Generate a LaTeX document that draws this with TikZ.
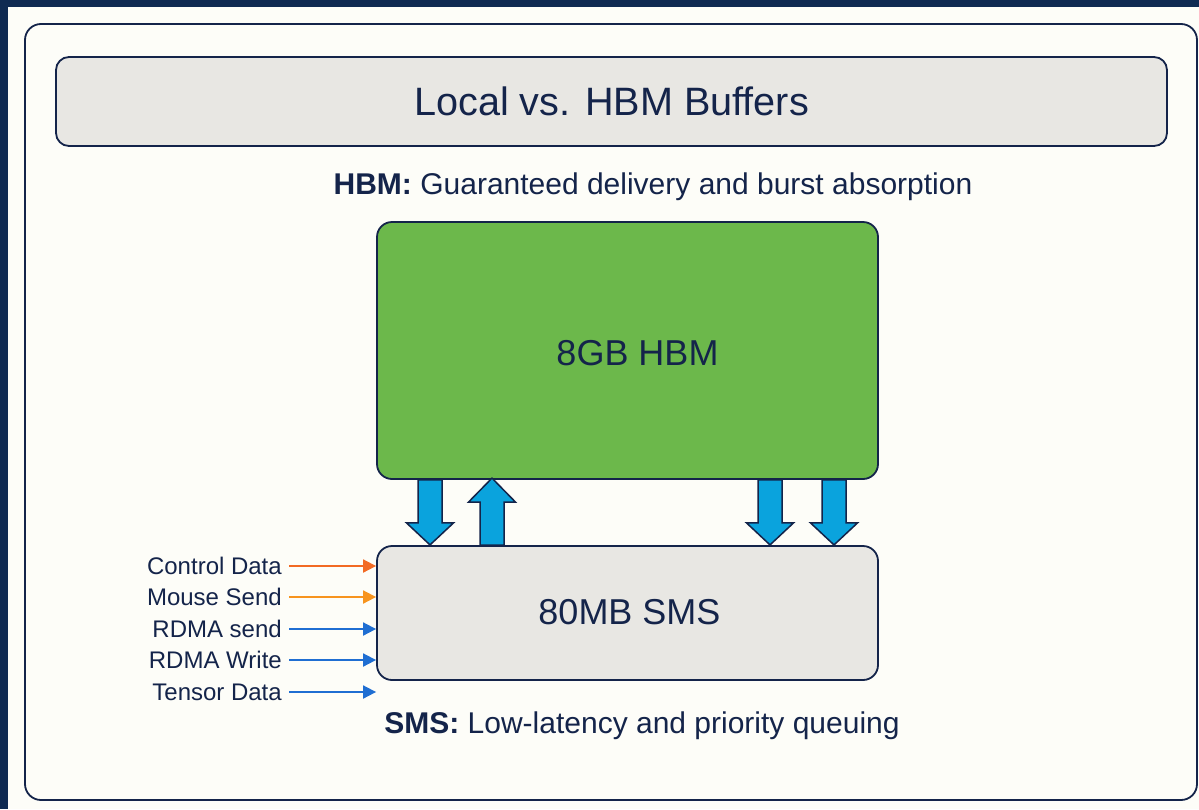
\documentclass[tikz,border=0pt]{standalone}
\usepackage{fontspec}
\setmainfont{Liberation Sans}
\usetikzlibrary{positioning,calc,arrows.meta}

\definecolor{navy}{HTML}{0F2A52}
\definecolor{ink}{HTML}{14244A}
\definecolor{cream}{HTML}{FDFDF8}
\definecolor{boxgray}{HTML}{E8E7E3}
\definecolor{hbmgreen}{HTML}{6CB84B}
\definecolor{flowblue}{HTML}{0AA3DD}
\definecolor{ctrlorange}{HTML}{F26A24}
\definecolor{mouseorange}{HTML}{F7941E}
\definecolor{rdmablue}{HTML}{1F6ED2}

\tikzstyle{panel} = [draw=ink, line width=1.8pt, rounded corners=13pt]
\tikzstyle{buffer} = [draw=ink, line width=1.8pt, rounded corners=15pt, minimum width=501pt]
\tikzstyle{buftext} = [text=ink, font=\fontsize{36}{42}\selectfont]
\tikzstyle{note} = [text=ink, font=\fontsize{30}{34}\selectfont]
\tikzstyle{inlabel} = [anchor=east, text=ink, inner sep=0pt, font=\fontsize{24}{28}\selectfont]
\tikzstyle{inarrow} = [line width=1.8pt, -{Triangle[length=13pt,width=13pt]}]
\tikzstyle{blockarrow} = [draw=ink, line width=1.5pt, fill=flowblue, line join=miter]

\begin{document}
\begin{tikzpicture}[x=1pt, y=-1pt]
  % frame
  \fill[navy] (0,0) rectangle (1199,809);
  \fill[cream] (8,7) rectangle (1199,809);
  \draw[panel, rounded corners=16pt] (25,24) rectangle (1197,800);

  \node[panel, fill=boxgray, minimum width=1111pt, minimum height=89pt, text=ink, font=\fontsize{39.6}{45}\selectfont] (title) at (611.5,101.5) {Local vs. HBM Buffers};

  \node[note] (hbmnote) at (653,187) {\textbf{HBM:} Guaranteed delivery and burst absorption};

  % buffers
  \node[buffer, fill=hbmgreen, minimum height=257pt] (hbm) at (627.5,350.5) {};
  \node[buftext] (hbmtext) at ([xshift=10pt, yshift=-3pt]hbm.center) {8GB HBM};
  \node[buffer, fill=boxgray, minimum height=134pt] (sms) at (627.5,613) {};
  \node[buftext] (smstext) at ([xshift=2pt, yshift=1pt]sms.center) {80MB SMS};

  \node[note] (smsnote) at (642,726) {\textbf{SMS:} Low-latency and priority queuing};

  % hbm -> sms
  \foreach \x in {430,770,834}
  \draw[blockarrow] (\x,0 |- hbm.south) ++(-12,0) -- ++(0,43) -- ++(-11.5,0) -- ++(23.5,22) -- ++(23.5,-22) -- ++(-11.5,0) -- ++(0,-43) -- cycle;

  % sms -> hbm
  \draw[blockarrow] (492,0 |- sms.north) ++(-12,0) -- ++(0,-43) -- ++(-11.5,0) -- ++(23.5,-24) -- ++(23.5,24) -- ++(-11.5,0) -- ++(0,43) -- cycle;

  % inputs
  \foreach \y/\txt/\col [count=\i] in {566/Control Data/ctrlorange, 597/Mouse Send/mouseorange, 629/RDMA send/rdmablue, 660/RDMA Write/rdmablue, 692/Tensor Data/rdmablue}
  {
    \node[inlabel] (in\i) at (282,\y) {\txt};
    \draw[inarrow, \col] ([xshift=7pt]in\i.east) -- (sms.west |- in\i.east);
  }

\end{tikzpicture}
\end{document}
